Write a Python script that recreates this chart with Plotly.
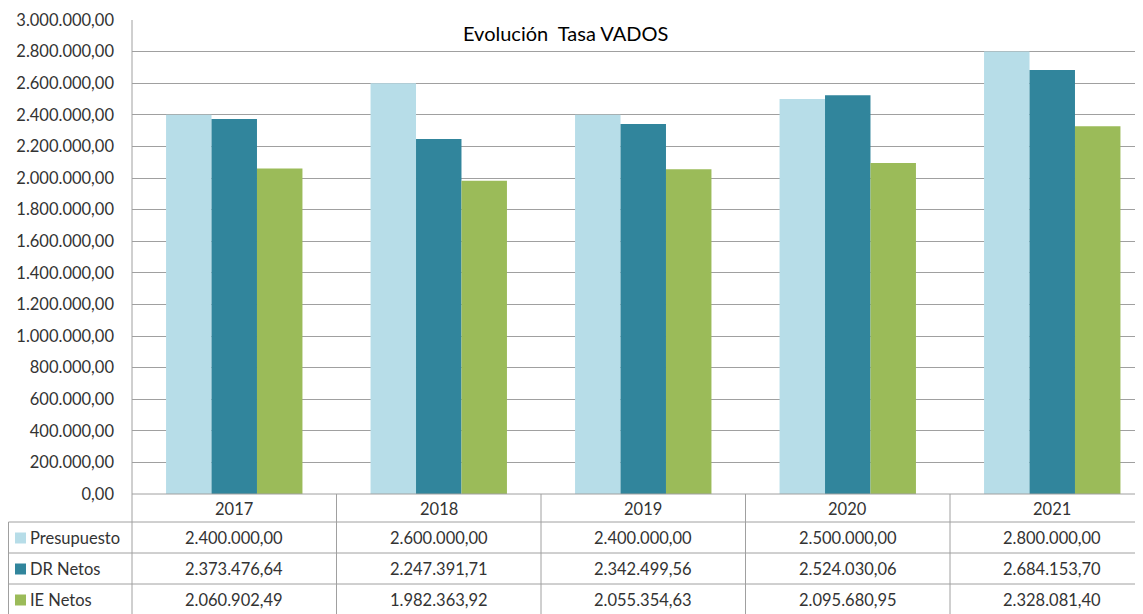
import plotly.graph_objects as go

years = ["2017", "2018", "2019", "2020", "2021"]
presupuesto = [2400000.00, 2600000.00, 2400000.00, 2500000.00, 2800000.00]
dr_netos = [2373476.64, 2247391.71, 2342499.56, 2524030.06, 2684153.70]
ie_netos = [2060902.49, 1982363.92, 2055354.63, 2095680.95, 2328081.40]
series_names = ["Presupuesto", "DR Netos", "IE Netos"]
colors = ["#B7DDE8", "#31859C", "#9BBB59"]
title = "Evolución  Tasa VADOS"

OFF = 8  # page body margin
W, H = 1143 - OFF, 614 - OFF
# page coordinates of the plot area
L, R_EDGE, T, B = 132, 1143, 20, 494
PW, PH = R_EDGE - L, B - T
COLW = 204.5
FONT = "Lato"
TXT = "#333333"
GRID = "#a0a0a0"
FS = 16.5


def px(x):
    return (x - L) / PW


def py(y):
    return (B - y) / PH


fig = go.Figure()
for name, vals, col in zip(series_names, [presupuesto, dr_netos, ie_netos], colors):
    fig.add_trace(go.Bar(x=years, y=vals, name=name, marker=dict(color=col, line=dict(width=0))))

shapes = []
shapes.append(dict(type="line", xref="paper", yref="paper", x0=px(132), x1=px(132), y0=py(20), y1=py(614),
                   line=dict(color=GRID, width=1)))
for i in range(1, 5):
    xx = L + COLW * i
    shapes.append(dict(type="line", xref="paper", yref="paper", x0=px(xx), x1=px(xx), y0=py(494), y1=py(614),
                       line=dict(color=GRID, width=1)))
shapes.append(dict(type="line", xref="paper", yref="paper", x0=px(8.5), x1=px(8.5), y0=py(522), y1=py(614),
                   line=dict(color=GRID, width=1)))
shapes.append(dict(type="line", xref="paper", yref="paper", x0=px(132), x1=px(1143), y0=py(494), y1=py(494),
                   line=dict(color=GRID, width=1)))
for yy in [522, 553, 584]:
    shapes.append(dict(type="line", xref="paper", yref="paper", x0=px(8.5), x1=px(1143), y0=py(yy), y1=py(yy),
                       line=dict(color=GRID, width=1)))
row_y = [538, 569, 600]
for yc, col in zip(row_y, colors):
    shapes.append(dict(type="rect", xref="paper", yref="paper", x0=px(15), x1=px(26), y0=py(yc - 5.5), y1=py(yc + 5.5),
                       fillcolor=col, line=dict(width=0)))

annotations = []
annotations.append(dict(text=title, xref="paper", yref="paper", x=px(565), y=py(33), showarrow=False,
                        font=dict(family=FONT, size=20, color="#000000"), xanchor="center", yanchor="middle"))
for i, yr in enumerate(years):
    annotations.append(dict(text=yr, xref="paper", yref="paper", x=px(L + COLW * (i + 0.5)), y=py(509),
                            showarrow=False, font=dict(family=FONT, size=FS, color=TXT),
                            xanchor="center", yanchor="middle"))


def fmt(v):
    s = f"{v:,.2f}"
    return s.replace(",", "X").replace(".", ",").replace("X", ".")


for yc, name, vals in zip(row_y, series_names, [presupuesto, dr_netos, ie_netos]):
    annotations.append(dict(text=name, xref="paper", yref="paper", x=px(28), y=py(yc), showarrow=False,
                            font=dict(family=FONT, size=FS, color=TXT), xanchor="left", yanchor="middle"))
    for i, v in enumerate(vals):
        annotations.append(dict(text=fmt(v), xref="paper", yref="paper", x=px(L + COLW * (i + 0.5)), y=py(yc),
                                showarrow=False, font=dict(family=FONT, size=FS, color=TXT),
                                xanchor="center", yanchor="middle"))

fig.update_layout(
    width=W, height=H,
    margin=dict(l=L - OFF, r=(1143 - OFF) - (R_EDGE - OFF), t=T - OFF, b=(614 - OFF) - (B - OFF), pad=0),
    paper_bgcolor="white", plot_bgcolor="white",
    barmode="group", bargap=0.333, bargroupgap=0,
    showlegend=False,
    separators=",.",
    shapes=shapes, annotations=annotations,
    xaxis=dict(range=[-0.5, -0.5 + PW / COLW], showticklabels=False, showgrid=False, zeroline=False,
               showline=False, ticks=""),
    yaxis=dict(range=[0, 3000000], dtick=200000, tickformat=",.2f", showgrid=True, gridcolor=GRID, gridwidth=1,
               zeroline=False, showline=False, ticks="", ticklabelstandoff=17,
               tickfont=dict(family=FONT, size=FS, color=TXT)),
)

fig.write_html("out.html")
